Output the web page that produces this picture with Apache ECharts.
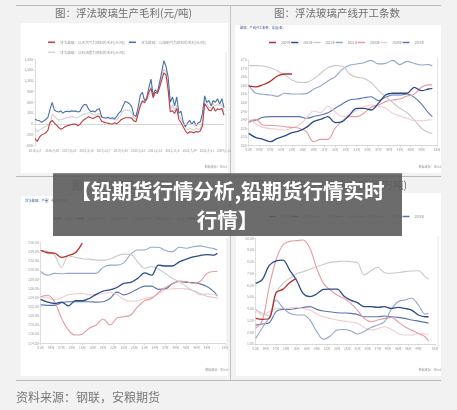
<!DOCTYPE html>
<html>
<head>
<meta charset="utf-8">
<script src="https://cdn.jsdelivr.net/npm/echarts@6.0.0/dist/echarts.min.js"></script>
<style>
html, body { margin: 0; padding: 0; background: #f2f2f2; }
#c { width: 457px; height: 410px; }
</style>
</head>
<body>
<div id="c"></div>
<script>
// 图1 毛利（元/吨），每 1/8 个标签间隔取一点
const profitDates = ['2016/1/8', '2016/9/30', '2017/6/23', '2018/3/16', '2018/12/7', '2019/8/30',
  '2020/5/22', '2021/2/12', '2021/11/5', '2022/7/29', '2023/4/21', '2024/1/12'];
const profitNames = ['浮法玻璃：以天然气为燃料的毛利(元/吨)', '浮法玻璃：以煤制气为燃料的毛利(元/吨)', '浮法玻璃：以石油焦为燃料的毛利(元/吨)'];
const profitGas = [-409, -493, -381, -316, -288, -251, -186, 40, 93, 28,
  -37, -102, -149, -121, -84, -56, -37, -19, -9, -9,
  -56, -9, 65, 121, 158, 195, 167, 149, 177, 214,
  195, 74, 47, 28, 19, 0, -9, 28, 0, 47,
  112, 140, 167, 167, 167, 158, 84, 56, 270, 493,
  642, 586, 698, 893, 986, 735, 884, 846, 1014, 1218,
  1423, 1367, 939, 335, 363, 288, 428, 121, 28, -84,
  -195, -270, -223, -233, -251, -214, -233, -195, -47, 567,
  474, 381, 363, 474, 353, 419, 400, 428, 242];
const profitCoal = [130, 100, 90, 40, 80, 120, 180, 400, 600, 380,
  350, 330, 360, 300, 340, 350, 340, 360, 350, 360,
  330, 350, 480, 540, 530, 400, 340, 360, 330, 400,
  420, 200, 170, 160, 180, 150, 170, 140, 200, 300,
  350, 500, 620, 600, 560, 480, 250, 200, 450, 800,
  880, 650, 720, 1000, 1250, 800, 950, 880, 1150, 1450,
  1760, 1600, 1300, 600, 750, 500, 750, 300, 350, 50,
  -80, 20, 100, -20, 80, -50, 30, 60, 300, 780,
  600, 650, 500, 650, 600, 700, 550, 700, 450];
const profitCoke = [-130, -223, -177, -140, -102, -74, -47, -9, 270, 214,
  149, 102, 112, 130, 158, 177, 186, 195, 186, 167,
  177, 214, 251, 270, 288, 307, 298, 260, 242, 270,
  288, 186, 167, 149, 140, 140, 130, 121, 102, 177,
  260, 353, 381, 381, 372, 307, 177, 121, 363, 549,
  642, 614, 660, 753, 1051, 707, 856, 893, 1088, 1311,
  1525, 1460, 1014, 400, 530, 363, 521, 223, 130, 28,
  -84, -167, -130, -149, -177, -130, -158, -130, 56, 660,
  567, 456, 456, 567, 493, 549, 502, 549, 335];

// 季节性图：周序号与刻度
const weekPts = [1, 3, 5, 7, 9, 11, 13, 15, 17, 19, 21, 23, 25, 27, 29, 31, 33, 35, 37, 39, 41, 43, 45, 47, 49, 51, 52];
const weekTicks = [1, 4, 7, 10, 13, 16, 19, 22, 25, 28, 31, 34, 37, 40, 43, 46, 49];
const weekLabels = ['01周', '04周', '07周', '10周', '13周', '16周', '19周', '22周', '25周', '28周', '31周',
  '34周', '37周', '40周', '43周', '46周', '49周', '53周'];
const yearNames = ['2024年', '2023年', '2022年', '2021年', '2020年', '2019年', '2018年'];

// 图2 产线开工条数
const lines2024 = [259.8, 259.2, 260.5, 262.5, 265.6, 266.8, 266.8];
const lines2023 = [232.0, 229.5, 228.5, 227.1, 229.1, 230.5, 232.4, 233.4, 235.5, 238.9, 240.2, 241.8, 238.3, 238.9,
  242.8, 246.7, 246.7, 245.7, 249.6, 254.5, 255.5, 255.5, 255.5, 259.0, 257.0, 258.0, 258.4];
const lines2022 = [271.7, 271.7, 271.5, 270.5, 268.6, 266.2, 263.3, 261.9, 261.9, 263.9, 267.2, 270.5, 271.7, 271.5,
  266.8, 264.8, 264.3, 261.7, 257.4, 253.5, 250.0, 246.7, 244.1, 239.8, 235.0, 232.4, 232.0];
const lines2021 = [260.4, 255.5, 254.9, 254.5, 253.7, 255.5, 255.1, 255.1, 255.3, 257.8, 259.8, 262.7, 265.2, 269.5,
  271.9, 272.7, 273.4, 274.8, 272.7, 273.0, 274.8, 272.3, 274.2, 273.0, 272.1, 272.3, 271.5];
const lines2020 = [238.9, 240.2, 236.9, 236.7, 236.5, 235.9, 235.5, 235.0, 233.0, 227.1, 228.5, 228.5, 235.0, 239.3,
  241.8, 241.8, 243.8, 247.3, 248.6, 250.6, 251.6, 252.1, 253.9, 255.0, 259.0, 260.4, 260.4];
const lines2019 = [240.2, 237.5, 235.5, 234.8, 234.4, 234.0, 235.0, 236.9, 240.8, 245.1, 244.1, 248.0, 244.7, 241.8,
  242.8, 245.7, 247.7, 248.6, 248.0, 246.7, 243.8, 242.2, 240.8, 239.5, 239.3, 239.8, 239.8];
const lines2018 = [238.5, 239.8, 241.4, 241.8, 241.8, 241.8, 241.8, 241.8, 240.8, 241.8, 242.8, 244.1, 246.7, 249.2,
  251.6, 252.1, 252.9, 253.5, 251.2, 253.1, 254.5, 254.5, 255.1, 253.1, 249.2, 243.8, 241.8];

// 图3 产量
const output2024 = [134.3, 133.8, 133.7, 132.8, 133.2, 133.8, 135.9];
const output2023 = [123.6, 123.0, 122.7, 123.0, 122.2, 123.3, 123.3, 123.8, 124.7, 125.4, 125.7, 126.2, 127.1, 127.3,
  128.2, 129.4, 128.9, 131.1, 130.9, 130.9, 131.8, 132.4, 132.9, 133.2, 133.4, 133.3, 133.7];
const output2022 = [134.3, 134.1, 133.3, 130.6, 133.1, 132.8, 132.5, 132.4, 132.2, 132.2, 132.4, 133.1, 133.5, 133.4,
  131.8, 130.4, 130.8, 130.2, 129.3, 128.2, 127.5, 126.4, 125.5, 124.9, 124.3, 124.0, 123.8];
const output2021 = [129.7, 128.9, 129.3, 129.2, 129.3, 129.3, 129.3, 129.3, 129.3, 130.6, 131.1, 131.1, 131.6, 133.5,
  134.4, 134.4, 135.0, 135.0, 134.3, 134.0, 135.0, 134.8, 135.1, 135.3, 135.0, 134.7, 134.4];
const output2020 = [124.2, 124.5, 123.1, 119.5, 116.9, 115.8, 116.0, 117.3, 118.0, 119.3, 118.0, 119.5, 119.8, 120.2,
  122.0, 123.3, 123.8, 125.1, 126.2, 127.0, 127.6, 127.5, 127.1, 127.5, 129.3, 129.7, 129.7];
const output2019 = [124.2, 124.0, 123.5, 124.0, 124.6, 124.8, 124.9, 124.6, 124.6, 124.9, 125.1, 124.6, 123.6, 123.2,
  123.3, 123.8, 124.1, 124.8, 125.7, 125.9, 126.0, 125.9, 125.5, 124.6, 124.8, 124.6, 124.5];
const output2018 = [122.4, 122.3, 122.3, 122.9, 123.1, 123.1, 123.1, 123.1, 123.0, 123.1, 123.8, 125.2, 124.6, 125.1,
  125.9, 126.5, 126.5, 125.8, 125.9, 127.0, 127.5, 127.3, 127.3, 127.0, 126.4, 125.3, 124.3];

// 图4 库存
const stock2024 = [3.18, 3.10, 3.18, 5.37, 5.65, 6.22, 6.59];
const stock2023 = [6.16, 6.51, 7.70, 8.07, 8.15, 7.30, 6.45, 5.31, 5.03, 5.26, 5.65, 5.68, 5.68, 5.09,
  4.74, 4.52, 4.18, 4.18, 4.12, 4.18, 4.03, 4.12, 4.03, 3.89, 3.47, 3.32, 3.32];
const stock2022 = [3.89, 3.61, 3.38, 5.31, 6.16, 6.59, 6.96, 7.16, 7.36, 7.59, 7.78, 7.95, 8.01, 8.07,
  8.01, 7.93, 6.88, 7.24, 7.53, 7.07, 7.02, 7.07, 7.16, 7.22, 7.24, 6.73, 6.51];
const stock2021 = [1.48, 2.41, 3.27, 4.75, 4.10, 3.61, 3.47, 3.47, 3.04, 2.05, 1.39, 1.68, 2.19, 2.24,
  2.13, 1.85, 2.05, 2.41, 2.61, 2.90, 3.95, 4.60, 4.75, 4.90, 4.32, 3.55, 3.61];
const stock2020 = [2.33, 3.04, 5.88, 8.15, 9.43, 9.74, 9.80, 9.86, 9.15, 7.44, 6.16, 5.60, 5.17, 4.89,
  4.46, 3.89, 3.18, 2.90, 3.04, 3.18, 3.27, 2.90, 2.47, 2.19, 1.90, 1.62, 1.25];
const stock2019 = [3.95, 3.47, 3.75, 4.01, 4.03, 4.06, 4.12, 4.03, 3.89, 3.55, 3.32, 3.18, 3.04, 2.95,
  2.87, 2.76, 2.41, 2.19, 2.30, 2.47, 2.24, 1.90, 1.76, 1.76, 1.90, 1.85, 1.76];
const stock2018 = [2.61, 2.70, 2.81, 3.75, 3.95, 3.95, 4.03, 4.12, 4.18, 3.95, 3.81, 3.75, 3.66, 3.64,
  3.61, 3.52, 3.32, 3.32, 3.32, 3.38, 3.32, 3.27, 3.18, 3.04, 2.95, 2.84, 2.76];

const yearColors = ['#b5302c', '#2c4b8a', '#c9c9c9', '#93a7cc', '#e79aa2', '#f2cbce', '#5a76ae'];
const FONT = '"Noto Sans CJK SC", "Noto Sans", sans-serif';

const chart = echarts.init(document.getElementById('c'));

function yearSeries(g, sets) {
  return sets.map((vals, k) => ({
    type: 'line', name: yearNames[k], xAxisIndex: g, yAxisIndex: g,
    data: vals.map((v, i) => [weekPts[i], v]),
    symbol: 'none', smooth: 0.35, z: 10 - k,
    lineStyle: { color: yearColors[k], width: k < 2 ? 1.3 : 1.1 },
    itemStyle: { color: yearColors[k] }
  }));
}

function weekAxis(g, max) {
  const vals = weekTicks.concat([max]);
  return {
    type: 'value', gridIndex: g, min: 1, max: max,
    axisLine: { lineStyle: { color: '#cfcfcf', width: 0.8 } },
    axisTick: { customValues: vals, length: 2, lineStyle: { color: '#cfcfcf', width: 0.6 } },
    axisLabel: {
      customValues: vals, fontSize: 3, color: '#999', margin: 3, fontFamily: FONT,
      formatter: v => { const k = weekTicks.indexOf(v); return k >= 0 ? weekLabels[k] : weekLabels[weekLabels.length - 1]; }
    },
    splitLine: { show: false }
  };
}

function valAxis(g, min, max, interval, fmt) {
  return {
    type: 'value', gridIndex: g, min, max, interval,
    axisLine: { show: true, lineStyle: { color: '#d6d6d6', width: 0.8 } },
    axisTick: { show: true, length: 2, lineStyle: { color: '#d6d6d6', width: 0.6 } },
    axisLabel: { fontSize: 3.5, color: '#999', margin: 2, formatter: fmt, fontFamily: FONT },
    splitLine: { show: false }
  };
}

function legendFor(left, top) {
  return {
    data: yearNames, left, top, itemWidth: 7, itemHeight: 1.5, itemGap: 0.6, icon: 'rect', padding: 0,
    textStyle: { fontSize: 3, color: '#888', fontFamily: FONT }, selectedMode: false
  };
}

function txt(x, y, text, size, color, align, extra) {
  return Object.assign({
    type: 'text', x, y, z: 5,
    style: { text, fill: color, font: size + 'px ' + FONT, textAlign: align || 'left', textVerticalAlign: 'middle' }
  }, extra || {});
}
function hline(x1, y1, x2, y2, color, w, z) {
  return { type: 'line', z: z || 0, shape: { x1, y1, x2, y2 }, style: { stroke: color, lineWidth: w || 1 } };
}
function panel(x, y, w, h) {
  return { type: 'rect', z: -10, shape: { x, y, width: w, height: h }, style: { fill: '#ffffff' } };
}

const profitSeries = [profitGas, profitCoal, profitCoke].map((vals, k) => ({
  type: 'line', name: profitNames[k], xAxisIndex: 0, yAxisIndex: 0,
  data: vals.map((v, i) => [i / 8, v]),
  symbol: 'none', z: k === 2 ? 3 : 5 - k,
  lineStyle: { color: ['#c03a3c', '#4a6ea9', '#d2d2d2'][k], width: 1.1 },
  itemStyle: { color: ['#c03a3c', '#4a6ea9', '#d2d2d2'][k] },
  markLine: k === 0 ? {
    silent: true, symbol: ['none', 'none'], label: { show: false },
    lineStyle: { color: '#cdcdcd', width: 0.8, type: 'solid' }, data: [{ yAxis: 0 }]
  } : undefined
}));

const option = {
  backgroundColor: '#f2f2f2',
  animation: false,
  textStyle: { fontFamily: FONT },
  grid: [
    { left: 35, top: 59.3, width: 189, height: 86, outerBoundsMode: 'none' },
    { left: 248.7, top: 60, width: 188.3, height: 85.3, outerBoundsMode: 'none' },
    { left: 40.7, top: 242.7, width: 184.3, height: 100.6, outerBoundsMode: 'none' },
    { left: 255.7, top: 238.3, width: 179.3, height: 105.7, outerBoundsMode: 'none' }
  ],
  legend: [
    { data: profitNames.slice(0, 2), left: 48, top: 40.5, itemWidth: 7, itemHeight: 1.5, itemGap: 4, icon: 'rect', padding: 0,
      textStyle: { fontSize: 3.6, color: '#999', fontFamily: FONT }, selectedMode: false },
    { data: profitNames.slice(2), left: 48, top: 50.5, itemWidth: 7, itemHeight: 1.5, itemGap: 4, icon: 'rect', padding: 0,
      textStyle: { fontSize: 3.6, color: '#999', fontFamily: FONT }, selectedMode: false },
    legendFor(269, 41),
    legendFor(54.5, 217),
    legendFor(269, 215)
  ],
  xAxis: [
    { type: 'value', gridIndex: 0, min: 0, max: 11, interval: 1,
      axisLine: { show: false }, axisTick: { show: false }, splitLine: { show: false },
      axisLabel: { fontSize: 3, color: '#999', margin: 4, formatter: v => profitDates[v] || '', fontFamily: FONT } },
    weekAxis(1, 53.3),
    weekAxis(2, 54.2),
    weekAxis(3, 53.9)
  ],
  yAxis: [
    valAxis(0, -600, 1800, 300, v => v.toLocaleString('en-US')),
    valAxis(1, 225, 275, 5, v => String(v)),
    valAxis(2, 114, 136, 2, v => v.toFixed(2)),
    valAxis(3, 1, 10, 1, v => v.toFixed(2))
  ],
  series: profitSeries
    .concat(yearSeries(1, [lines2024, lines2023, lines2022, lines2021, lines2020, lines2019, lines2018]))
    .concat(yearSeries(2, [output2024, output2023, output2022, output2021, output2020, output2019, output2018]))
    .concat(yearSeries(3, [stock2024, stock2023, stock2022, stock2021, stock2020, stock2019, stock2018])),
  graphic: {
    elements: [
      panel(21, 23, 207, 150),
      panel(235, 25, 206, 148),
      panel(21, 196, 207, 180),
      panel(236, 193, 205, 183),
      hline(16, 5.5, 441, 5.5, '#b9b9b9', 1.2, -5),
      hline(16, 176.5, 441, 176.5, '#b9b9b9', 1.2, -5),
      hline(16, 380.5, 441, 380.5, '#b9b9b9', 1.2, -5),
      hline(230.5, 5, 230.5, 380, '#c4c4c4', 1, -5),
      hline(226, 52, 226, 153, '#dddddd', 0.8, 1),
      hline(437.5, 58, 437.5, 147, '#dddddd', 0.8, 1),
      hline(227, 238, 227, 350, '#dddddd', 0.8, 1),
      hline(438, 236, 438, 347, '#dddddd', 0.8, 1),
      txt(123.5, 13, '图：浮法玻璃生产毛利(元/吨)', 10.5, '#6f6f6f', 'center'),
      txt(337, 13, '图：浮法玻璃产线开工条数', 10.5, '#6f6f6f', 'center'),
      txt(128, 185, '图：浮法玻璃产量(万吨)', 10.5, '#6f6f6f', 'center'),
      txt(330, 185, '图：浮法玻璃生产企业库存(万吨)', 10.5, '#6f6f6f', 'center'),
      txt(240, 28, '玻璃：产线开工条数：全国(条)', 3.2, '#3d5c9e'),
      txt(25, 201, '浮法玻璃：产量：中国(万吨)', 3.3, '#3d5c9e'),
      txt(240, 198, '浮法玻璃：库存：中国(万吨)', 3.3, '#3d5c9e'),
      txt(227, 167, '数据来源：Wind', 3, '#999', 'right'),
      txt(441, 167, '数据来源：Wind', 3, '#999', 'right'),
      txt(227.5, 370, '数据来源：Wind', 3, '#999', 'right'),
      txt(441, 370, '数据来源：Wind', 3, '#999', 'right'),
      txt(16, 397, '资料来源：钢联，安粮期货', 12, '#777777', 'left'),
      { type: 'rect', z: 100, shape: { x: 53, y: 173.3, width: 349, height: 62.7 }, style: { fill: 'rgba(92,92,92,0.9)' } },
      txt(227.5, 191.5, '【铅期货行情分析,铅期货行情实时', 20.5, '#ffffff', 'center', { z: 101 }),
      txt(227.5, 220.5, '行情】', 20.5, '#ffffff', 'center', { z: 101 })
    ]
  }
};
option.graphic.elements.forEach(e => {
  if (e.type === 'text' && e.z === 101) e.style.font = 'bold 20.5px ' + FONT;
});
chart.setOption(option);
</script>
</body>
</html>
